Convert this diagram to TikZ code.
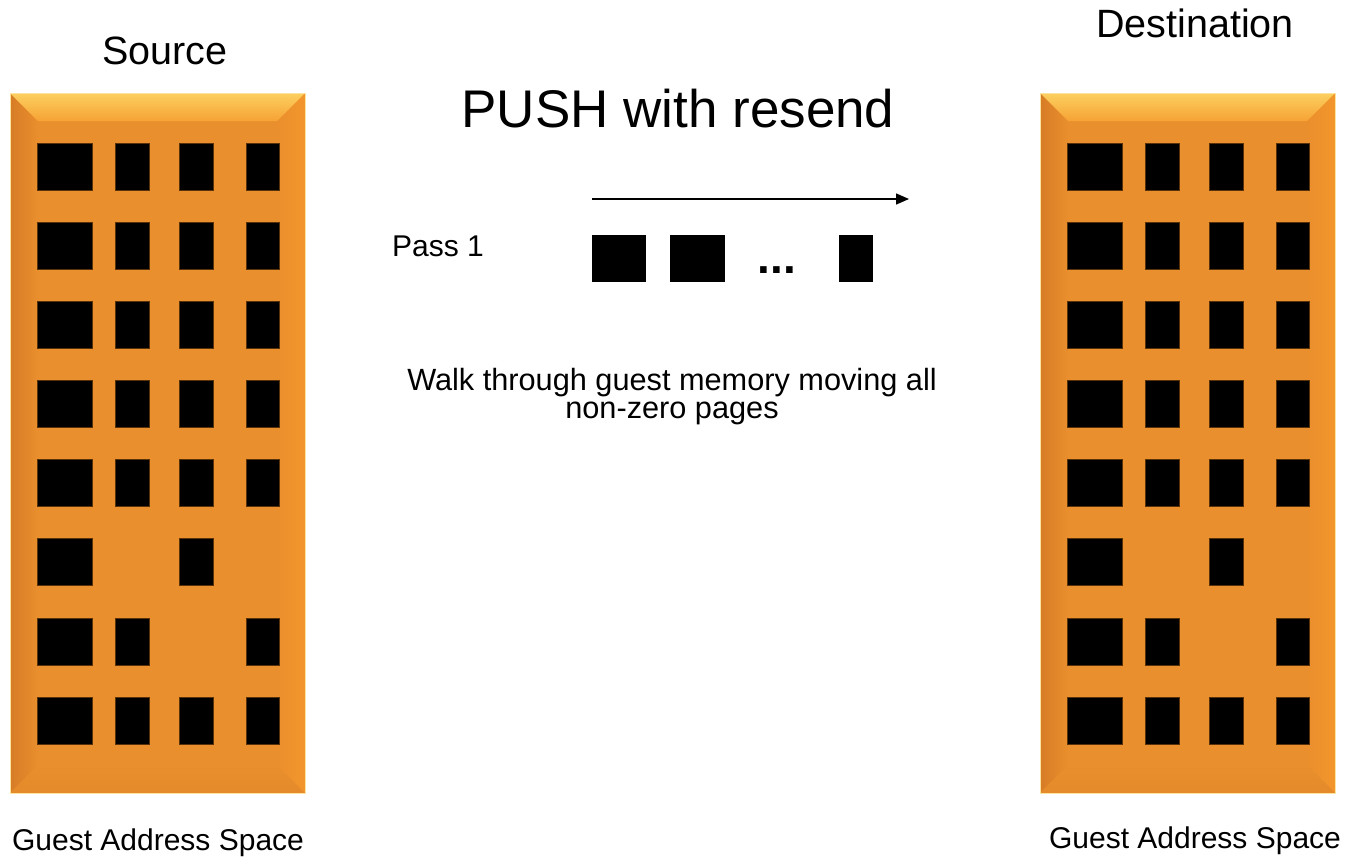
\documentclass[tikz,border=0pt]{standalone}
\usepackage{fontspec}
\setmainfont{Liberation Sans}
\usetikzlibrary{arrows.meta}
\definecolor{boxmain}{RGB}{234,143,45}
\definecolor{boxtop}{RGB}{252,208,96}
\definecolor{boxtopin}{RGB}{246,162,52}
\definecolor{boxleft}{RGB}{214,124,38}
\definecolor{boxright}{RGB}{243,150,44}
\definecolor{boxbot}{RGB}{228,138,42}
\definecolor{pageedge}{RGB}{90,50,10}
\tikzset{
  page/.style={fill=black, draw=pageedge, line width=0.6pt},
  label/.style={inner sep=0pt, anchor=base},
}
\newcommand{\membox}[2]{%
  % #1 = left x, #2 = name
  \begin{scope}[shift={(#1,0)}]
    \fill[boxmain] (0,93) rectangle (295,793);
    \shade[left color=boxleft, right color=boxmain] (0,93) -- (28,121) -- (28,765) -- (0,793) -- cycle;
    \shade[left color=boxmain, right color=boxright] (295,93) -- (267,121) -- (267,765) -- (295,793) -- cycle;
    \shade[top color=boxmain, bottom color=boxbot] (0,793) -- (28,765) -- (267,765) -- (295,793) -- cycle;
    \shade[top color=boxtop, bottom color=boxtopin] (0,93) -- (295,93) -- (267,121) -- (28,121) -- cycle;
    \draw[boxtop!60!white, line width=0.8pt] (0,93) rectangle (295,793);
    \coordinate (#2) at (147.5,443);
    \foreach \r/\cols in {0/{1,2,3,4},1/{1,2,3,4},2/{1,2,3,4},3/{1,2,3,4},4/{1,2,3,4},5/{1,3},6/{1,2,4},7/{1,2,3,4}}{
      \pgfmathsetmacro{\yt}{143+79.14*\r}
      \foreach \c in \cols {
        \ifcase\c\or
          \draw[page] (27,\yt) rectangle ++(55,47);
        \or
          \draw[page] (105,\yt) rectangle ++(34,47);
        \or
          \draw[page] (169,\yt) rectangle ++(34,47);
        \or
          \draw[page] (236,\yt) rectangle ++(33,47);
        \fi
      }
    }
  \end{scope}
}
\begin{document}
\begin{tikzpicture}[x=1pt,y=-1pt]
\useasboundingbox (0,0) rectangle (1348,857);
\fill[white] (0,0) rectangle (1348,857);

\membox{10}{src}
\membox{1040}{dst}

\node[label, font=\fontsize{39.5}{42}\selectfont] (srclbl) at (165,64) {Source};
\node[label, font=\fontsize{39.5}{42}\selectfont] (dstlbl) at (1195,37) {Destination};
\node[label, font=\fontsize{30}{33}\selectfont] (srcgas) at (158,850) {Guest Address Space};
\node[label, font=\fontsize{30}{33}\selectfont] (dstgas) at (1195,848) {Guest Address Space};

\node[label, font=\fontsize{53}{56}\selectfont] (title) at (678,127) {PUSH with resend};

\coordinate (arrs) at (592,199);
\coordinate (arre) at (909,199);
\draw[line width=1.4pt, -{Triangle[length=13pt,width=11pt]}] (arrs) -- (arre);

\node[label, font=\fontsize{30}{32}\selectfont, anchor=base west] (pass) at (392,256) {Pass 1};
\draw[page, draw=none] (592,235) rectangle (646,282);
\draw[page, draw=none] (670,235) rectangle (725,282);
\draw[page, draw=none] (839,235) rectangle (873,282);
\node[label, font=\fontsize{46}{48}\selectfont\bfseries] (dots) at (777,273) {...};

\node[font=\fontsize{30.7}{28}\selectfont, align=center, inner sep=0pt, anchor=base] (walk) at (672,418)
  {Walk through guest memory moving all\\non-zero pages};
\end{tikzpicture}
\end{document}
